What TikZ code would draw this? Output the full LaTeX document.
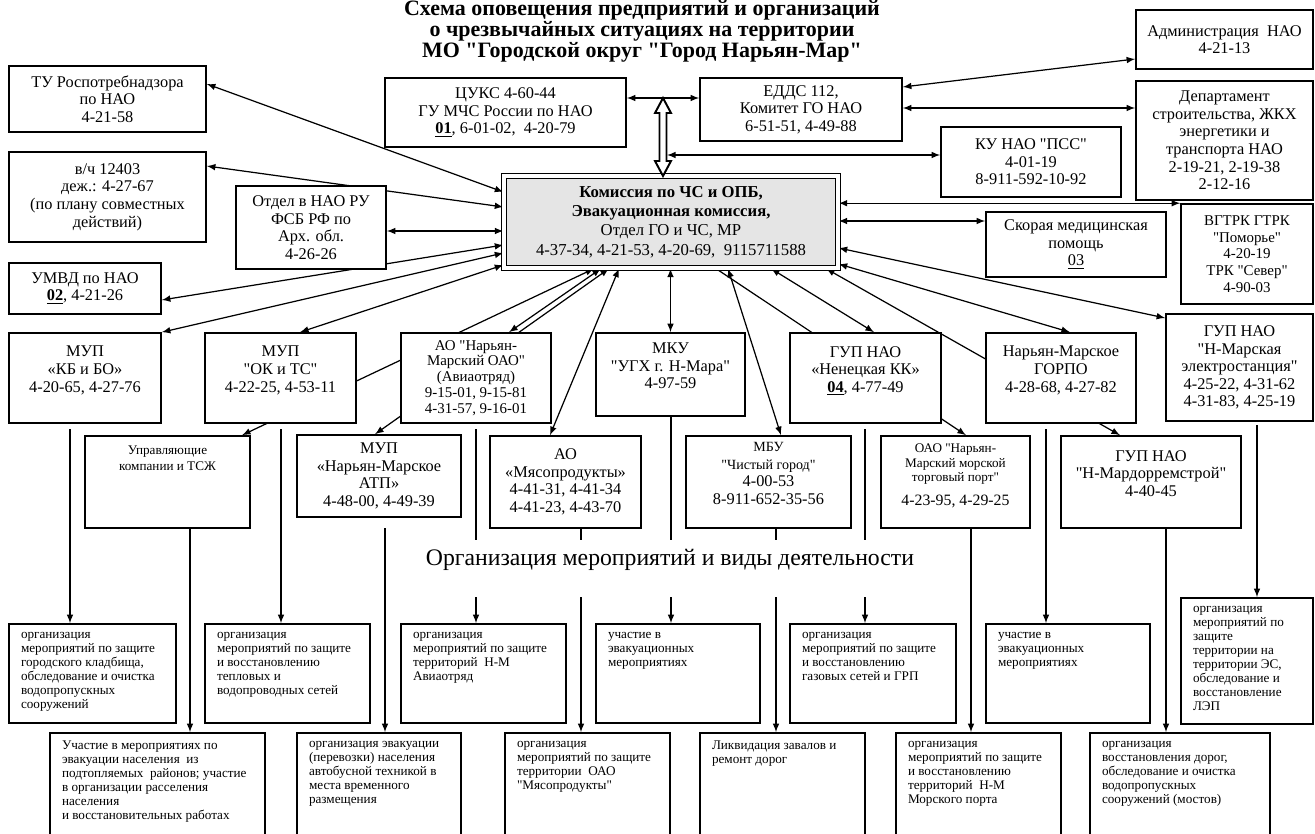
\documentclass[tikz,border=0pt]{standalone}
\usepackage{fontspec}
\setmainfont{Liberation Serif}[Ligatures=TeXOff]
\usepackage{tikz}
\usetikzlibrary{arrows,backgrounds,calc}
\newdimen\pxl
\pxl=0.02cm
\newcommand\acttext[3]{\parbox[c][#2\pxl][t]{#1\pxl}{\raggedright\hbadness=10000 #3}}

\begin{document}
\begin{tikzpicture}[>=latex, x=0.02cm, y=-0.02cm,
	box/.style={draw, fill=white, line width=0.9pt, align=center, inner sep=1pt, font=\fontsize{9.3}{10}\selectfont},
	main/.style={draw, double, double distance=2pt, line width=0.7pt, fill=black!10, align=center, font=\fontsize{9.5}{11}\selectfont},
	act/.style={draw, fill=white, line width=0.9pt, inner xsep=12*\pxl, inner ysep=8*\pxl, font=\fontsize{7.5}{8}\selectfont},
	sz/.style 2 args={minimum width=#1*\pxl, minimum height=#2*\pxl},
	link/.style={<->, line width=0.7pt},
	down/.style={->, line width=0.7pt},
	stub/.style={line width=0.7pt}]
		%\draw [help lines] (0,0) grid (1315,834);
		\useasboundingbox (0,0) rectangle (1315,834);
		\node [font=\bfseries\fontsize{12.5}{12}\selectfont, align=center] (title) at (642,31) {Схема оповещения предприятий и организаций\\о чрезвычайных ситуациях на территории\\МО "Городской округ "Город Нарьян-Мар"};
		
		% upper part
		\node [box, sz={197}{66}] (tu) at (107.5,99) {ТУ Роспотребнадзора\\по НАО\\4-21-58};
		\node [box, sz={197}{90}] (vch) at (107.5,197) {в/ч 12403\\деж.: 4-27-67\\(по плану совместных\\действий)};
		\node [box, sz={150}{83}] (fsb) at (311,227.5) {Отдел в НАО РУ\\ФСБ РФ по\\Арх. обл.\\4-26-26};
		\node [box, sz={152}{51}] (umvd) at (85,288.5) {УМВД по НАО\\\underline{\textbf{02}}, 4-21-26};
		\node [box, sz={241}{69}] (cuks) at (505.5,112.5) {ЦУКС 4-60-44\\ГУ МЧС России по НАО\\\underline{\textbf{01}}, 6-01-02,\ \ 4-20-79};
		\node [main, sz={334}{92}] (kchs) at (671,222) {\textbf{Комиссия по ЧС и ОПБ,}\\\textbf{Эвакуационная комиссия,}\\Отдел ГО и ЧС, МР\\4-37-34, 4-21-53, 4-20-69,\ \ 9115711588};
		\node [box, sz={202}{63}] (edds) at (801,109.5) {ЕДДС 112,\\Комитет ГО НАО\\6-51-51, 4-49-88};
		\node [box, sz={177}{59}] (adm) at (1224.5,39.5) {Администрация\ \ НАО\\4-21-13};
		\node [box, sz={177}{119}] (dep) at (1224.5,140.5) {Департамент\\строительства, ЖКХ\\энергетики и\\транспорта НАО\\2-19-21, 2-19-38\\2-12-16};
		\node [box, sz={180}{70}] (pss) at (1031,162) {КУ НАО "ПСС"\\4-01-19\\8-911-592-10-92};
		\node [box, sz={180}{65}] (skor) at (1076,244.5) {Скорая медицинская\\помощь\\\underline{03}};
		\node [box, sz={132}{100}, font=\fontsize{8.5}{9.5}\selectfont] (vgtrk) at (1247,254) {ВГТРК ГТРК\\"Поморье"\\4-20-19\\ТРК "Север"\\4-90-03};
		\node [box, sz={147}{107}] (es) at (1239.5,367.5) {ГУП НАО\\"Н-Марская\\электростанция"\\4-25-22, 4-31-62\\4-31-83, 4-25-19};
		
		% second row
		\node [box, sz={152}{90}] (kbbo) at (85,378) {МУП\\«КБ и БО»\\4-20-65, 4-27-76\\\mbox{}};
		\node [box, sz={151}{90}] (okts) at (280.5,378) {МУП\\"ОК и ТС"\\4-22-25, 4-53-11\\\mbox{}};
		\node [box, sz={150}{90}, font=\fontsize{8.5}{9}\selectfont] (avia) at (476,378) {АО "Нарьян-\\Марский ОАО"\\(Авиаотряд)\\9-15-01, 9-15-81\\4-31-57, 9-16-01};
		\node [box, sz={149}{83}] (mku) at (670.5,374.5) {МКУ\\"УГХ г. Н-Мара"\\4-97-59\\\mbox{}};
		\node [box, sz={151}{90}] (nkk) at (865.5,378) {ГУП НАО\\«Ненецкая КК»\\\underline{\textbf{04}}, 4-77-49\\\mbox{}};
		\node [box, sz={150}{90}] (gorpo) at (1061,378) {Нарьян-Марское\\ГОРПО\\4-28-68, 4-27-82\\\mbox{}};
		
		% third row
		\node [box, sz={165}{92}, font=\fontsize{7.5}{9}\selectfont] (uk) at (167.5,482) {Управляющие\\компании и ТСЖ\\\mbox{}\\\mbox{}\\\mbox{}};
		\node [box, sz={164}{82}] (atp) at (379,476) {МУП\\«Нарьян-Марское\\АТП»\\4-48-00, 4-49-39};
		\node [box, sz={151}{92}] (myaso) at (565.5,482) {АО\\«Мясопродукты»\\4-41-31, 4-41-34\\4-41-23, 4-43-70};
		\node [box, sz={165}{92}] (mbu) at (768.5,482) {{\fontsize{8}{9}\selectfont МБУ}\\{\fontsize{8}{9}\selectfont "Чистый город"}\\4-00-53\\8-911-652-35-56\\\mbox{}};
		\node [box, sz={149}{92}, font=\fontsize{7.5}{8.5}\selectfont] (port) at (955.5,482) {ОАО "Нарьян-\\Марский морской\\торговый порт"\\[5pt]{\fontsize{9}{10}\selectfont 4-23-95, 4-29-25}\\\mbox{}};
		\node [box, sz={180}{92}] (mdrs) at (1151,482) {ГУП НАО\\"Н-Мардорремстрой"\\4-40-45\\\mbox{}};
		
		\node [font=\fontsize{13.5}{15}\selectfont, inner sep=0pt, text height=14.2pt, text depth=18.1pt, anchor=base] (org) at (670,565) {Организация мероприятий и виды деятельности};
		
		% activities
		\node [act] (a1) at (92.5,673.5) {\acttext{143}{83}{организация\\мероприятий по защите\\городского кладбища,\\обследование и очистка\\водопропускных\\сооружений}};
		\node [act] (a2) at (287.5,673.5) {\acttext{141}{83}{организация\\мероприятий по защите\\и восстановлению\\тепловых и\\водопроводных сетей}};
		\node [act] (a3) at (483.5,673.5) {\acttext{141}{83}{организация\\мероприятий по защите\\территорий\ \ Н-М\\Авиаотряд}};
		\node [act] (a4) at (678,673.5) {\acttext{140}{83}{участие в\\эвакуационных\\мероприятиях}};
		\node [act] (a5) at (873,673.5) {\acttext{142}{83}{организация\\мероприятий по защите\\и восстановлению\\газовых сетей и ГРП}};
		\node [act] (a6) at (1068,673.5) {\acttext{140}{83}{участие в\\эвакуационных\\мероприятиях}};
		\node [act] (a7) at (1247,661) {\acttext{108}{110}{организация\\мероприятий по\\защите\\территории на\\территории ЭС,\\обследование и\\восстановление\\ЛЭП}};
		
		\node [act] (b1) at (157.5,784.5) {\acttext{191}{87}{Участие в мероприятиях по\\эвакуации населения\ \ из\\подтопляемых\ \ районов; участие\\в организации расселения\\населения\\и восстановительных работах}};
		\node [act] (b2) at (379,784.5) {\acttext{140}{87}{организация эвакуации\\(перевозки) населения\\автобусной техникой в\\места временного\\размещения}};
		\node [act] (b3) at (587.5,784.5) {\acttext{141}{87}{организация\\мероприятий по защите\\территории\ \ ОАО\\"Мясопродукты"}};
		\node [act] (b4) at (782.5,784.5) {\acttext{141}{87}{Ликвидация завалов и\\ремонт дорог}};
		\node [act] (b5) at (978.5,784.5) {\acttext{141}{87}{организация\\мероприятий по защите\\и восстановлению\\территорий\ \ Н-М\\Морского порта}};
		\node [act] (b6) at (1180,784.5) {\acttext{156}{87}{организация\\восстановления дорог,\\обследование и очистка\\водопропускных\\сооружений (мостов)}};
		
		% hollow arrow between the link line and the commission
		\coordinate (hub) at ($(cuks.east |- 0,98)!.5!(edds.west |- 0,98)$);
		\coordinate (pssin) at ($(hub)+(4,57)$);
		\draw [line width=1.1pt, fill=white] (hub) -- ++(8,15) -- ++(-4.5,0) -- ++(0,48) -- ++(4.5,0) -- ++(-8,15) -- ++(-8,-15) -- ++(4.5,0) -- ++(0,-48) -- ++(-4.5,0) -- cycle;
		
		\begin{scope}[on background layer]
			\draw [link] (cuks.east |- 0,98) -- (edds.west |- 0,98);
			\draw [link] (pssin) -- (pss.west |- pssin);
			\draw [link] (edds.east |- 0,87) -- (adm.west |- 0,59);
			\draw [link] (edds.east |- 0,108) -- (dep.west |- 0,108);
			
			\draw [link] (tu.east |- 0,84) -- (kchs.west |- 0,192);
			\draw [link] (vch.east |- 0,166) -- (kchs.west |- 0,207);
			\draw [link] (fsb.east |- 0,231) -- (kchs.west |- 0,231);
			\draw [link] (umvd.east |- 0,300) -- (kchs.west |- 0,245);
			\draw [link] (kbbo.north east) -- (kchs.west |- 0,253);
			\draw [link] (okts.north -| 300,0) -- (kchs.west |- 0,265);
			\draw [link] (uk.north -| 242,0) -- (kchs.south -| 594,0);
			\draw [link] (avia.north -| 509,0) -- (kchs.south -| 601,0);
			\draw [link] (atp.north -| 375,0) -- (kchs.south -| 609,0);
			\draw [link] (myaso.north -| 550,0) -- (kchs.south -| 619,0);
			\draw [link] (kchs.south -| mku.north) -- (mku.north);
			\draw [->, line width=0.7pt] (kchs.south -| 716,0) -- (port.north -| 966,0);
			\draw [link] (kchs.south -| 728,0) -- (mbu.north -| 781,0);
			\draw [link] (kchs.south -| 771,0) -- (nkk.north -| 874,0);
			\draw [link] (kchs.south -| 826,0) -- (mdrs.north -| 1120,0);
			\draw [link] (kchs.east |- 0,264) -- (gorpo.north -| 1070,0);
			\draw [link] (kchs.east |- 0,248) -- (es.west |- 0,318);
			\draw [link] (kchs.east |- 0,221) -- (skor.west |- 0,221);
			\draw [link] (kchs.east |- vgtrk.north west) -- (vgtrk.north west);
			
			% down to the activities
			\draw [down, shorten <=3pt] (kbbo.south -| 70,0) -- (a1.north -| 70,0);
			\draw [down] (uk.south -| 190,0) -- (b1.north -| 190,0);
			\draw [down, shorten <=3pt] (okts.south -| 281,0) -- (a2.north -| 281,0);
			\draw [down, shorten <=6pt] (atp.south -| 385,0) -- (b2.north -| 385,0);
			\draw [stub, shorten <=3pt] (avia.south -| 476,0) -- (org.north -| 476,0);
			\draw [down] (org.south -| 476,0) -- (a3.north -| 476,0);
			\draw [stub] (myaso.south -| 581,0) -- (org.north -| 581,0);
			\draw [down] (org.south -| 581,0) -- (b3.north -| 581,0);
			\draw [stub] (mku.south -| 671,0) -- (org.north -| 671,0);
			\draw [down] (org.south -| 671,0) -- (a4.north -| 671,0);
			\draw [stub] (mbu.south -| 776,0) -- (org.north -| 776,0);
			\draw [down] (org.south -| 776,0) -- (b4.north -| 776,0);
			\draw [stub, shorten <=3pt] (nkk.south -| 865,0) -- (org.north -| 865,0);
			\draw [down] (org.south -| 865,0) -- (a5.north -| 865,0);
			\draw [down] (port.south -| 971,0) -- (b5.north -| 971,0);
			\draw [down, shorten <=3pt] (gorpo.south -| 1046,0) -- (a6.north -| 1046,0);
			\draw [down] (mdrs.south -| 1166,0) -- (b6.north -| 1166,0);
			\draw [down, shorten <=2pt] (es.south -| 1257,0) -- (a7.north -| 1257,0);
		\end{scope}
	\end{tikzpicture}
\end{document}
